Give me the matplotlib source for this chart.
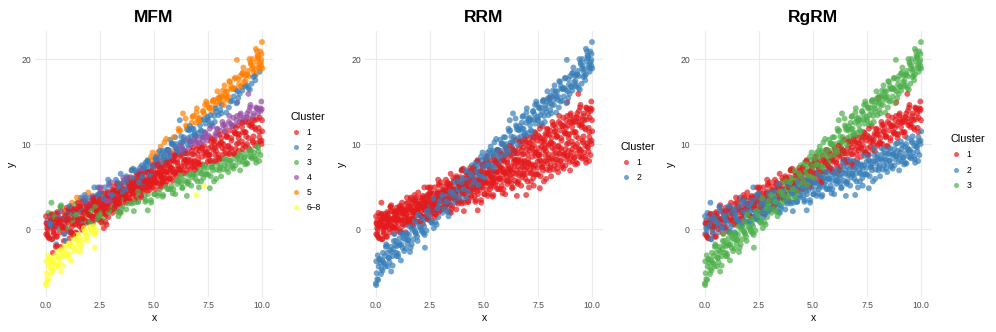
import matplotlib
matplotlib.use("Agg")
import matplotlib.pyplot as plt
from matplotlib.lines import Line2D
import numpy as np

plt.rcParams['font.family'] = ['Liberation Sans', 'DejaVu Sans']

# ---------------- data ----------------
# group A: the middle-slope band
x_A = [0.02,0.07,0.11,0.16,0.22,0.26,0.31,0.36,0.41,0.46,
       0.51,0.56,0.62,0.66,0.71,0.77,0.81,0.86,0.92,0.96,
       1.01,1.06,1.12,1.16,1.21,1.27,1.31,1.36,1.41,1.46,
       1.51,1.57,1.61,1.66,1.72,1.76,1.81,1.87,1.91,1.96,
       2.01,2.06,2.11,2.17,2.21,2.26,2.32,2.36,2.41,2.47,
       2.51,2.56,2.61,2.67,2.71,2.76,2.82,2.86,2.91,2.96,
       3.01,3.07,3.11,3.16,3.22,3.26,3.31,3.37,3.41,3.46,
       3.51,3.57,3.61,3.66,3.72,3.76,3.81,3.87,3.91,3.96,
       4.01,4.06,4.12,4.16,4.21,4.27,4.31,4.36,4.42,4.46,
       4.51,4.57,4.61,4.66,4.71,4.77,4.81,4.86,4.92,4.96,
       5.01,5.06,5.12,5.16,5.21,5.27,5.31,5.36,5.42,5.46,
       5.51,5.57,5.61,5.66,5.72,5.76,5.81,5.87,5.91,5.96,
       6.01,6.07,6.11,6.16,6.22,6.26,6.31,6.37,6.41,6.46,
       6.51,6.57,6.61,6.66,6.72,6.76,6.81,6.87,6.91,6.96,
       7.01,7.07,7.11,7.16,7.22,7.26,7.31,7.37,7.41,7.46,
       7.51,7.57,7.61,7.66,7.71,7.77,7.81,7.86,7.92,7.96,
       8.01,8.06,8.12,8.16,8.21,8.27,8.31,8.36,8.42,8.46,
       8.51,8.57,8.61,8.66,8.72,8.76,8.81,8.87,8.91,8.96,
       9.01,9.07,9.11,9.16,9.22,9.26,9.31,9.37,9.41,9.46,
       9.51,9.57,9.61,9.66,9.72,9.76,9.81,9.87,9.91,9.96,9.99,
       8.02,9.36,8.85,
       0.04,0.13,0.24,0.35,0.44,0.53,0.64,0.75,0.84,0.93,
       1.04,1.13,1.24,1.35,1.44,1.53,1.64,1.75,1.84,1.93,
       2.04,2.13,2.24,2.35,2.44,2.53,2.64,2.75,2.84,2.93,
       3.04,3.13,3.24,3.35,3.44,3.53,3.64,3.75,3.84,3.93,
       4.04,4.13,4.24,4.35,4.44,4.53,4.64,4.75,4.84,4.93,
       5.04,5.13,5.24,5.35,5.44,5.53,5.64,5.75,5.84,5.93,
       6.04,6.13,6.24,6.35,6.44,6.53,6.64,6.75,6.84,6.93,
       7.04,7.13,7.24,7.35,7.44,7.53,7.64,7.75,7.84,7.93,
       8.04,8.13,8.24,8.35,8.44,8.53,8.64,8.75,8.84,8.93,
       9.04,9.13,9.24,9.35,9.44,9.53,9.64,9.75,9.84,9.93,
       0.08,0.19,0.28,0.39,0.48,0.58,0.69,0.79,0.88,0.98,
       1.08,1.19,1.28,1.39,1.48,1.58,1.69,1.79,1.88,1.98,
       2.08,2.19,2.28,2.39,2.48,2.58,2.69,2.79,2.88,2.98,
       3.08,3.19,3.28,3.39,3.48,3.58,3.69,3.79,3.88,3.98,
       4.08,4.19,4.28,4.39,4.48,4.58,4.69,4.79,4.88,4.98,
       5.08,5.19,5.28,5.39,5.48,5.58,5.69,5.79,5.88,5.98,
       6.08,6.19,6.28,6.39,6.48,6.58,6.69,6.79,6.88,6.98,
       7.08,7.19,7.28,7.39,7.48,7.58,7.69,7.79,7.88,7.98,
       8.08,8.19,8.28,8.39,8.48,8.58,8.69,8.79,8.88,8.98,
       9.08,9.19,9.28,9.39,9.48,9.58,9.69,9.79,9.88,9.98]
y_A = [-0.6,1.0,0.4,-1.1,0.8,1.8,0.2,-0.4,1.3,0.7,
       -0.9,1.8,1.1,0.4,2.8,0.2,1.1,1.8,0.1,2.5,
       1.1,1.8,-0.4,2.4,3.1,1.0,2.0,1.4,3.0,0.8,
       2.6,2.0,3.5,1.2,2.6,3.3,0.9,3.0,2.0,4.3,
       2.5,2.8,1.5,3.9,3.4,2.3,3.8,2.9,4.9,2.2,
       3.6,4.3,3.0,1.9,4.9,3.8,2.9,4.4,5.3,3.6,
       5.5,3.9,3.3,5.0,4.5,2.8,5.5,4.9,4.1,6.5,
       3.9,4.8,5.5,3.8,6.2,4.8,5.5,3.3,6.1,6.9,
       4.7,5.7,5.2,6.7,4.5,6.4,5.7,7.2,5.0,6.3,
       7.0,4.7,6.7,5.7,8.1,6.2,6.5,5.2,7.6,7.1,
       6.0,7.5,6.6,8.6,5.9,7.3,8.0,6.7,5.6,8.6,
       7.5,6.6,8.1,9.0,7.3,7.2,8.7,8.1,6.7,8.6,
       9.5,8.0,7.4,9.0,8.5,6.9,9.5,8.9,8.2,10.5,
       8.0,8.9,9.5,7.9,10.3,8.8,9.6,7.4,10.1,10.9,
       8.8,9.7,9.2,10.8,8.5,10.4,9.8,11.3,9.0,10.4,
       11.0,8.7,10.8,9.7,12.1,10.3,10.5,9.2,11.7,11.2,
       10.0,11.6,10.7,12.6,10.0,11.4,12.0,10.8,9.7,12.6,
       11.6,10.7,12.1,13.1,11.4,11.2,12.8,12.2,10.7,12.6,
       13.6,12.0,11.4,13.1,12.6,10.9,13.6,13.0,12.2,14.6,
       12.0,12.9,13.6,11.9,14.3,12.9,13.6,11.4,14.2,15.0,12.8,
       15.4,15.9,14.9,
       0.6,-1.0,0.4,1.3,0.2,2.0,0.0,1.2,-0.5,2.0,
       1.2,2.5,1.0,2.2,3.7,1.0,2.2,1.9,3.7,2.3,
       3.7,1.5,3.3,2.4,3.9,4.9,3.5,1.8,4.2,5.1,
       3.5,4.4,5.8,3.5,5.3,4.6,3.6,6.0,5.3,4.6,
       7.1,5.2,4.6,6.4,6.0,7.3,5.5,6.7,5.0,7.5,
       6.5,8.0,7.7,6.0,6.8,7.9,9.3,6.9,8.1,7.9,
       9.2,6.6,8.7,9.3,8.1,7.8,10.3,9.2,8.8,10.3,
       8.2,10.1,9.6,11.4,10.8,9.5,10.3,9.3,11.2,11.8,
       11.1,10.1,12.3,11.0,9.8,12.4,12.1,11.3,13.3,11.1,
       12.9,12.6,11.4,12.6,14.3,12.3,12.8,14.2,11.9,13.9,
       -0.8,0.7,1.7,0.3,-0.9,1.4,1.0,2.1,0.6,0.2,
       2.3,1.3,1.9,0.5,3.1,2.6,1.5,4.0,2.4,3.0,
       1.6,3.7,2.6,3.2,4.8,2.6,4.2,3.6,5.8,3.3,
       4.6,2.7,5.3,4.8,4.3,6.0,4.0,5.6,4.9,6.9,
       5.4,6.3,4.5,6.9,6.4,5.6,8.0,5.4,6.8,7.5,
       8.1,6.5,7.1,5.5,8.1,7.8,7.5,8.9,7.0,8.6,
       7.8,9.8,7.4,9.2,8.9,8.2,9.9,7.7,10.6,9.4,
       10.2,9.5,10.8,9.1,8.8,11.8,10.6,9.9,11.0,9.8,
       10.2,12.2,11.5,10.9,13.3,10.4,12.2,11.9,11.2,13.4,
       12.5,11.4,13.2,13.9,12.3,13.3,11.7,14.1,13.1,14.1]

# group B: the flattest band
x_B = [0.03,0.08,0.12,0.17,0.23,0.28,0.32,0.37,0.43,0.48,
       0.53,0.57,0.63,0.68,0.72,0.78,0.82,0.87,0.93,0.97,
       1.03,1.08,1.12,1.17,1.23,1.27,1.32,1.38,1.42,1.47,
       1.53,1.57,1.62,1.68,1.72,1.77,1.83,1.87,1.92,1.98,
       2.03,2.07,2.12,2.18,2.22,2.27,2.33,2.37,2.42,2.48,
       2.53,2.57,2.62,2.68,2.72,2.77,2.83,2.87,2.92,2.98,
       3.03,3.08,3.12,3.17,3.23,3.28,3.32,3.37,3.43,3.48,
       3.53,3.57,3.62,3.68,3.72,3.77,3.83,3.87,3.92,3.98,
       4.03,4.07,4.12,4.18,4.22,4.27,4.33,4.37,4.42,4.48,
       4.53,4.57,4.62,4.68,4.72,4.77,4.83,4.87,4.92,4.98,
       5.03,5.08,5.12,5.17,5.23,5.28,5.32,5.37,5.43,5.48,
       5.53,5.57,5.62,5.68,5.72,5.77,5.83,5.87,5.92,5.98,
       6.03,6.08,6.12,6.17,6.23,6.28,6.32,6.37,6.43,6.48,
       6.53,6.57,6.62,6.68,6.72,6.77,6.83,6.87,6.92,6.98,
       7.03,7.08,7.12,7.17,7.23,7.28,7.32,7.37,7.43,7.48,
       7.53,7.57,7.62,7.68,7.72,7.77,7.83,7.87,7.92,7.98,
       8.03,8.08,8.12,8.17,8.23,8.28,8.32,8.37,8.43,8.48,
       8.53,8.57,8.62,8.68,8.72,8.77,8.83,8.87,8.92,8.98,
       9.03,9.08,9.12,9.17,9.23,9.28,9.32,9.37,9.43,9.48,
       9.53,9.57,9.62,9.68,9.72,9.77,9.83,9.87,9.92,9.97,10.00,
       0.26,2.24,4.71,6.52,6.95,7.30,7.58,
       0.06,0.17,0.26,0.38,0.47,0.56,0.68,0.77,0.86,0.97,
       1.06,1.17,1.26,1.38,1.47,1.56,1.68,1.77,1.86,1.97,
       2.06,2.17,2.26,2.38,2.47,2.56,2.68,2.77,2.86,2.97,
       3.06,3.17,3.26,3.38,3.47,3.56,3.68,3.77,3.86,3.97,
       4.06,4.17,4.26,4.38,4.47,4.56,4.68,4.77,4.86,4.97,
       5.06,5.17,5.26,5.38,5.47,5.56,5.68,5.77,5.86,5.97,
       6.06,6.17,6.26,6.38,6.47,6.56,6.68,6.77,6.86,6.97,
       7.06,7.17,7.26,7.38,7.47,7.56,7.68,7.77,7.86,7.97,
       8.06,8.17,8.26,8.38,8.47,8.56,8.68,8.77,8.86,8.97,
       9.06,9.17,9.26,9.38,9.47,9.56,9.68,9.77,9.86,9.97,
       0.01,0.10,0.21,0.30,0.40,0.51,0.60,0.70,0.81,0.90,
       1.01,1.10,1.21,1.30,1.40,1.51,1.60,1.70,1.81,1.90,
       2.01,2.10,2.21,2.30,2.40,2.51,2.60,2.70,2.81,2.90,
       3.01,3.10,3.21,3.30,3.40,3.51,3.60,3.70,3.81,3.90,
       4.01,4.10,4.21,4.30,4.40,4.51,4.60,4.70,4.81,4.90,
       5.01,5.10,5.21,5.30,5.40,5.51,5.60,5.70,5.81,5.90,
       6.01,6.10,6.21,6.30,6.40,6.51,6.60,6.70,6.81,6.90,
       7.01,7.10,7.21,7.30,7.40,7.51,7.60,7.70,7.81,7.90,
       8.01,8.10,8.21,8.30,8.40,8.51,8.60,8.70,8.81,8.90,
       9.01,9.10,9.21,9.30,9.40,9.51,9.60,9.70,9.81,9.90]
y_B = [0.7,-0.6,1.9,0.4,1.1,-1.2,0.9,-0.1,1.8,0.4,
       1.6,0.8,-0.4,2.6,0.4,1.2,0.2,2.1,1.0,1.7,
       -0.2,2.0,1.0,2.7,0.6,1.9,2.4,-0.4,1.7,1.3,
       2.3,0.7,3.7,2.2,1.2,1.9,3.4,2.8,0.9,2.3,
       1.6,2.7,3.4,0.6,2.4,3.1,1.6,2.2,3.0,4.2,
       1.7,2.2,3.6,2.9,1.4,3.5,2.7,4.2,2.2,3.4,
       3.4,2.5,4.3,2.9,4.1,3.4,2.1,5.1,2.9,3.7,
       2.7,4.6,3.5,4.2,2.3,4.5,3.6,5.2,3.2,4.4,
       5.0,2.1,4.2,3.8,4.8,3.2,6.2,4.7,3.7,4.4,
       5.9,5.4,3.4,4.9,4.1,5.2,5.9,3.1,4.9,5.6,
       4.1,4.7,5.5,6.7,4.2,4.7,6.2,5.4,4.0,6.0,
       5.2,6.7,4.7,5.9,6.0,4.7,7.2,5.7,6.4,4.1,
       6.2,5.3,7.1,5.6,6.9,6.1,4.9,7.9,5.7,6.5,
       5.5,7.4,6.3,7.0,5.1,7.3,6.4,8.0,5.9,7.2,
       7.7,4.9,7.0,6.6,7.6,6.0,9.0,7.5,6.5,7.2,
       8.7,8.1,6.2,7.6,6.9,8.0,8.7,5.9,7.7,8.4,
       6.9,7.5,8.3,9.5,7.0,7.5,8.9,8.2,6.7,8.8,
       8.0,9.5,7.5,8.7,8.8,7.5,10.0,8.5,9.2,6.9,
       9.0,8.0,9.9,8.4,9.7,8.9,7.7,10.7,8.5,9.3,
       8.3,10.2,9.0,9.8,7.8,10.1,9.1,10.8,8.7,10.0,11.5,
       3.1,4.9,2.2,3.9,4.0,5.1,4.8,
       0.1,1.6,1.1,-0.6,0.2,1.2,2.6,0.1,1.3,1.1,
       2.3,-0.3,1.8,2.3,1.1,0.8,3.2,2.0,1.6,3.0,
       0.9,2.8,2.2,4.0,3.4,2.0,2.8,1.7,3.6,4.2,
       3.4,2.4,4.5,3.1,1.9,4.5,4.1,3.3,5.3,3.0,
       4.8,4.5,3.2,4.4,6.1,3.9,4.5,5.7,3.4,5.4,
       5.5,3.9,5.3,6.1,5.0,6.8,4.7,5.9,4.2,6.6,
       5.7,7.0,5.4,6.6,8.1,5.3,6.5,6.1,7.9,6.5,
       7.8,5.6,7.4,6.4,7.9,8.8,7.3,5.6,8.0,8.8,
       7.2,8.1,9.4,7.1,8.9,8.1,7.1,9.4,8.6,7.9,
       10.3,8.4,7.8,9.5,9.1,10.4,8.5,9.7,8.0,10.4,
       1.5,-0.1,0.5,-1.2,1.4,1.1,0.7,2.1,0.2,1.6,
       0.8,2.7,0.3,2.1,1.7,1.0,2.7,0.4,3.3,2.1,
       2.8,2.1,3.4,1.5,1.2,4.2,2.9,2.2,3.3,2.0,
       2.4,4.3,3.6,3.0,5.3,2.4,4.2,3.7,3.0,5.2,
       4.2,3.1,4.9,5.5,3.9,4.9,3.2,5.6,4.6,5.5,
       4.1,5.4,6.5,5.0,3.8,6.0,5.6,6.6,5.1,4.7,
       6.7,5.7,6.3,4.8,7.4,6.9,5.6,8.1,6.5,7.0,
       5.6,7.6,6.5,7.1,8.6,6.4,8.0,7.3,9.5,7.0,
       8.2,6.2,8.8,8.2,7.7,9.4,7.3,8.9,8.2,10.1,
       8.6,9.4,7.6,10.0,9.3,8.5,10.9,8.2,9.6,10.3]

# group C: the steep band
x_C = [0.00,0.04,0.09,0.13,0.18,0.24,0.29,0.33,0.39,0.44,
       0.48,0.53,0.59,0.63,0.69,0.74,0.78,0.83,0.89,0.94,
       0.98,1.03,1.09,1.14,1.18,1.24,1.28,1.34,1.38,1.43,
       1.49,1.53,1.58,1.64,1.68,1.73,1.79,1.84,1.88,1.93,
       1.98,2.03,2.08,2.13,2.19,2.23,2.28,2.34,2.38,2.43,
       2.48,2.53,2.58,2.63,2.68,2.74,2.78,2.83,2.89,2.93,
       2.98,3.04,3.08,3.13,3.19,3.23,3.28,3.33,3.39,3.43,
       3.48,3.53,3.59,3.63,3.68,3.74,3.78,3.83,3.88,3.94,
       3.98,4.03,4.09,4.13,4.18,4.24,4.28,4.33,4.38,4.44,
       4.48,4.54,4.58,4.63,4.69,4.73,4.78,4.84,4.88,4.93,
       4.98,5.03,5.08,5.14,5.18,5.23,5.29,5.33,5.38,5.44,
       5.48,5.53,5.59,5.63,5.68,5.74,5.78,5.83,5.89,5.93,
       5.98,6.04,6.08,6.13,6.19,6.23,6.28,6.34,6.38,6.43,
       6.48,6.53,6.59,6.63,6.68,6.74,6.78,6.83,6.88,6.94,
       6.98,7.03,7.09,7.13,7.18,7.24,7.28,7.33,7.38,7.44,
       7.48,7.53,7.59,7.63,7.69,7.73,7.78,7.84,7.88,7.93,
       7.98,8.04,8.08,8.13,8.19,8.23,8.28,8.34,8.38,8.43,
       8.48,8.54,8.58,8.63,8.69,8.73,8.78,8.83,8.89,8.93,
       8.98,9.04,9.08,9.13,9.19,9.23,9.28,9.34,9.38,9.43,
       9.48,9.53,9.59,9.63,9.68,9.74,9.78,9.84,9.88,9.93,9.97,10.00,
       0.02,2.27,9.99,9.71,9.91,9.96,9.81,9.55,
       0.02,0.11,0.21,0.31,0.41,0.51,0.61,0.71,0.81,0.91,
       1.02,1.11,1.21,1.31,1.41,1.51,1.61,1.71,1.81,1.91,
       2.02,2.11,2.21,2.31,2.41,2.51,2.61,2.71,2.81,2.91,
       3.02,3.11,3.21,3.31,3.41,3.51,3.61,3.71,3.81,3.91,
       4.02,4.11,4.21,4.31,4.41,4.51,4.61,4.71,4.81,4.91,
       5.02,5.11,5.21,5.31,5.41,5.51,5.61,5.71,5.81,5.91,
       6.02,6.11,6.21,6.31,6.41,6.51,6.61,6.71,6.81,6.91,
       7.02,7.11,7.21,7.31,7.41,7.51,7.61,7.71,7.81,7.91,
       8.02,8.11,8.21,8.31,8.41,8.51,8.61,8.71,8.81,8.91,
       9.02,9.11,9.21,9.31,9.41,9.51,9.61,9.71,9.81,9.91,
       0.07,0.16,0.26,0.36,0.46,0.56,0.66,0.76,0.86,0.96,
       1.07,1.16,1.26,1.36,1.46,1.56,1.66,1.76,1.86,1.96,
       2.07,2.16,2.26,2.36,2.46,2.56,2.66,2.76,2.86,2.96,
       3.07,3.16,3.26,3.36,3.46,3.56,3.66,3.76,3.86,3.96,
       4.07,4.16,4.26,4.36,4.46,4.56,4.66,4.76,4.86,4.96,
       5.07,5.16,5.26,5.36,5.46,5.56,5.66,5.76,5.86,5.96,
       6.07,6.16,6.26,6.36,6.46,6.56,6.66,6.76,6.86,6.96,
       7.07,7.16,7.26,7.36,7.46,7.56,7.66,7.76,7.86,7.96,
       8.07,8.16,8.26,8.36,8.46,8.56,8.66,8.76,8.86,8.96,
       9.07,9.16,9.26,9.36,9.46,9.56,9.66,9.76,9.86,9.96]
y_C = [-6.4,-5.2,-3.1,-4.4,-3.5,-5.3,-3.7,-2.8,-4.1,-4.4,
       -1.8,-2.8,-3.4,-3.9,-2.1,-2.7,-4.3,-1.4,-1.9,-2.8,
       -2.0,-3.2,-1.1,-0.4,-1.8,-2.2,-1.1,0.6,-2.3,-0.5,
       -1.3,-0.7,-2.7,0.3,-0.1,-1.2,1.1,-0.4,0.7,-1.4,
       0.8,0.2,1.5,-0.3,1.0,0.3,2.7,-0.2,1.2,2.1,
       1.1,2.7,1.0,2.1,0.1,2.7,2.1,3.8,1.4,2.9,
       3.6,2.3,1.9,4.6,3.6,3.0,2.5,4.2,3.6,2.0,
       5.0,4.5,3.5,4.4,3.1,5.3,6.0,4.6,4.1,5.3,
       7.0,4.1,5.9,5.0,5.6,3.7,6.7,6.3,5.2,7.5,
       6.0,7.1,5.0,7.1,6.6,7.9,6.1,7.3,6.6,9.0,
       6.2,7.6,8.5,7.4,9.0,7.4,8.5,6.5,9.0,8.5,
       10.2,7.8,9.3,9.3,8.3,10.5,9.2,10.1,8.2,9.8,
       10.8,9.5,9.1,11.8,12.8,10.2,9.7,13.6,10.8,9.2,
       12.2,11.7,10.7,11.6,10.3,12.5,13.2,11.8,11.3,12.5,
       14.2,11.3,13.1,12.2,12.8,10.9,13.9,13.5,12.4,14.7,
       13.2,14.3,12.2,14.3,13.8,15.1,13.3,14.5,13.8,16.2,
       13.4,14.8,15.7,14.6,16.3,14.6,15.7,13.7,16.2,15.6,
       17.4,15.0,16.5,16.5,15.6,17.7,16.4,19.9,15.4,17.0,
       18.0,16.7,16.3,19.0,18.0,17.4,16.9,18.6,18.0,16.4,
       19.4,18.9,17.9,18.8,17.5,19.7,20.4,19.0,18.5,19.6,20.6,18.9,
       -6.6,-2.2,22.0,21.2,20.9,19.2,20.1,20.0,
       -3.8,-6.0,-4.0,-4.9,-3.2,-2.0,-3.4,-5.0,-2.4,-1.4,
       -2.9,-1.9,-0.5,-2.6,-0.7,-1.3,-2.2,0.3,-0.3,-0.9,
       1.7,-0.1,-0.5,1.3,1.1,2.5,0.7,2.1,0.5,3.1,
       2.2,3.8,3.6,2.0,3.0,4.1,5.7,3.3,4.7,4.6,
       6.0,3.5,5.7,6.4,5.3,5.1,7.8,6.7,6.4,8.1,
       6.0,8.2,7.6,9.7,9.2,7.8,8.8,7.8,10.0,10.8,
       10.0,9.0,11.6,10.2,9.0,12.0,11.7,10.9,13.3,10.9,
       13.0,12.8,11.5,12.9,15.0,12.8,13.4,15.0,12.6,15.0,
       15.2,13.6,15.2,16.2,15.2,17.3,15.1,16.6,14.8,17.6,
       16.8,18.4,16.8,18.2,20.0,17.1,18.5,18.2,20.3,18.9,
       -5.9,-3.6,-4.7,-3.9,-2.1,-4.4,-2.5,-3.2,-0.6,-3.2,
       -1.7,-3.7,-0.7,-1.2,-1.7,0.3,-1.8,0.1,-0.6,1.7,
       0.2,1.2,-0.7,2.1,1.6,0.8,3.6,0.8,2.4,3.3,
       4.0,2.4,3.2,1.5,4.4,4.3,3.9,5.6,3.7,5.5,
       4.7,6.9,4.4,6.5,6.2,5.6,7.6,5.2,8.5,7.4,
       8.3,7.6,9.2,7.3,7.2,10.6,9.3,8.6,10.0,8.7,
       9.3,11.5,10.9,10.3,13.0,9.9,12.1,11.8,11.1,13.7,
       12.7,11.6,13.8,14.6,12.9,14.2,12.4,15.2,14.2,15.4,
       14.0,15.6,16.9,15.5,14.3,16.8,16.5,17.8,16.2,15.9,
       18.3,17.3,18.1,16.6,19.6,19.2,18.0,20.9,19.3,19.9]

# MFM cluster of every point (one character per point, "6" = 6-8)
mfm_A = ("1411251131" "1121311511" "1211514131" "1151241115" "1114112121"
         "1111211141" "4111112112" "1111211112" "1114111211" "1111211141"
         "1114111112" "1114114111" "4111114114" "1141411144" "1114141414"
         "4141411144" "1414114114" "1144114114" "4114114414" "11414141441"
         "244"
         "1121413112" "1131512141" "2111141112" "1121113411" "2111121114"
         "1421114111" "4114114114" "1414411144" "1141144141" "4411411414"
         "1211141513" "1121111214" "1131411121" "1112141112" "1114112111"
         "4111211411" "1414114141" "4141141141" "1441414114" "1144141414")
mfm_B = ("4132121131" "2113141121" "1123111121" "1121134112" "1213111312"
         "1321311211" "1123113211" "3211311211" "1311232111" "1131312311"
         "3111331131" "1131131113" "1313133133" "3131313131" "1333131333"
         "1133311331" "3311331331" "3133131313" "3313133133" "31313131311"
         "3233663"
         "1211413121" "1131121131" "3112131114" "1311321113" "1131231131"
         "1311313131" "3131133313" "1333113311" "3313133133" "1331313331"
         "1121311411" "1211311121" "1311321143" "3111231131" "1312113111"
         "3111311133" "1333113131" "3133131313" "1313313131" "3131331331")
mfm_C = ("6666666166" "2666166166" "6612666161" "6661161636" "1626161631"
         "1213141211" "1213114121" "2113122412" "5121232112" "1212421225"
         "1221522122" "5122225242" "2245222524" "5222255225" "5252225525"
         "2525552525" "2552555255" "5255252525" "5525552552" "552525552555"
         "66555555"
         "6666616662" "6616666166" "1662113111" "1213112121" "2112122125"
         "1225222125" "2252252252" "5522522525" "5255552525" "5525525555"
         "6666166626" "6616616661" "6161312114" "2113121211" "1231212152"
         "2121152221" "2522522225" "5255252525" "2555255522" "5552552555")

# RRM and RgRM cluster of each group
rrm_cluster = {"A": "1", "B": "1", "C": "2"}
rgrm_cluster = {"A": "1", "B": "2", "C": "3"}

panel_titles = ["MFM", "RRM", "RgRM"]
mfm_legend = ["1", "2", "3", "4", "5", "6\u20138"]
rrm_legend = ["1", "2"]
rgrm_legend = ["1", "2", "3"]

# ---------------- styling ----------------
palette = {"1": "#E41A1C", "2": "#377EB8", "3": "#4DAF4A",
           "4": "#984EA3", "5": "#FF7F00", "6": "#FFFF33"}

x_all = np.array(x_A + x_B + x_C)
y_all = np.array(y_A + y_B + y_C)
groups = ["A"] * len(x_A) + ["B"] * len(x_B) + ["C"] * len(x_C)

lab_mfm = list(mfm_A + mfm_B + mfm_C)
lab_rrm = [rrm_cluster[g] for g in groups]
lab_rgrm = [rgrm_cluster[g] for g in groups]
assert len(x_A) == len(y_A) and len(x_B) == len(y_B) and len(x_C) == len(y_C)
assert len(mfm_A) == len(x_A) and len(mfm_B) == len(x_B) and len(mfm_C) == len(x_C)

# draw order: groups interleaved point by point
nA, nB, nC = len(x_A), len(x_B), len(x_C)
order = []
for i in range(max(nA, nB, nC)):
    if i < nA:
        order.append(i)
    if i < nB:
        order.append(nA + i)
    if i < nC:
        order.append(nA + nB + i)
order = np.array(order)

W, H = 996, 332
fig = plt.figure(figsize=(W / 100, H / 100), dpi=100)
fig.patch.set_facecolor("white")

panels = [
    (panel_titles[0], lab_mfm, mfm_legend, 35, 286),
    (panel_titles[1], lab_rrm, rrm_legend, 365, 616),
    (panel_titles[2], lab_rgrm, rgrm_legend, 694, 946),
]

ax_top, ax_bot = 31, 297
for title, labs, leg_labels, left_px, leg_px in panels:
    ax = fig.add_axes([left_px / W, (H - ax_bot) / H, 238 / W, (ax_bot - ax_top) / H])
    ax.set_facecolor("white")
    cols = np.array([palette[c] for c in labs])
    ax.scatter(x_all[order], y_all[order], c=cols[order], s=18, alpha=0.7,
               linewidths=0, zorder=2)
    ax.set_xlim(-0.5, 10.5)
    ax.set_ylim(-8.0, 23.3)
    ax.set_xticks([0, 2.5, 5, 7.5, 10])
    ax.set_xticklabels(["0.0", "2.5", "5.0", "7.5", "10.0"])
    ax.set_yticks([0, 10, 20])
    ax.grid(True, color="#EBEBEB", linewidth=0.8, zorder=0)
    ax.set_axisbelow(True)
    for s in ax.spines.values():
        s.set_visible(False)
    ax.tick_params(length=0, labelsize=6.2, labelcolor="#4D4D4D", pad=3)
    ax.set_xlabel("x", fontsize=7.5, labelpad=2)
    ax.set_ylabel("y", fontsize=7.5, labelpad=3)
    ax.set_title(title, fontsize=12.5, fontweight="bold", pad=6.5)

    keys = [c if c != "6\u20138" else "6" for c in leg_labels]
    handles = [Line2D([0], [0], linestyle="none", marker="o", markersize=3.6,
                      markerfacecolor=palette[k], markeredgewidth=0, alpha=0.7)
               for k in keys]
    ax.legend(handles, leg_labels, title="Cluster", loc="center left",
              bbox_to_anchor=(leg_px / W, 1 - 162 / H),
              bbox_transform=fig.transFigure, frameon=False,
              fontsize=6.2, title_fontsize=7.8, labelspacing=0.7,
              handlelength=1.4, handletextpad=0.5, borderpad=0,
              alignment="left")

fig.savefig("out.png", dpi=100, facecolor="white")
